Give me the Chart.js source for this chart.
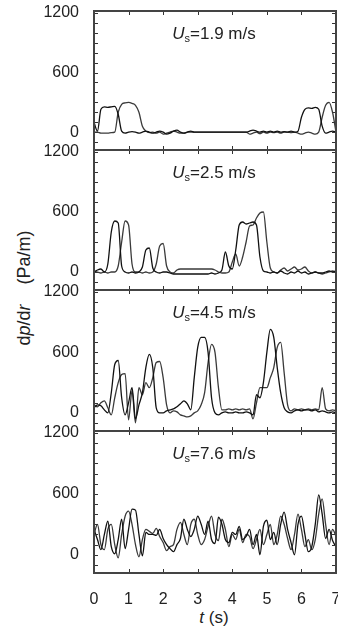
<!DOCTYPE html>
<html>
<head>
<meta charset="utf-8">
<script src="https://cdn.jsdelivr.net/npm/chart.js@4/dist/chart.umd.min.js"></script>
<style>
  html, body { margin: 0; padding: 0; background: #fff; }
  #wrap { position: relative; width: 338px; height: 635px; overflow: hidden;
          font-family: "Liberation Sans", Arial, sans-serif; color: #222; }
  #wrap canvas { position: absolute; left: 0; top: 0; }
  .lbl { position: absolute; white-space: nowrap; transform: translate(-50%, -50%); }
  .panel { font-size: 17px; }
  .panel sub { font-size: 11px; vertical-align: -3px; }
  #ytitle { font-size: 18px; transform: translate(-50%, -50%) rotate(-90deg); }
  #xtitle { font-size: 17px; }
</style>
</head>
<body>
<div id="wrap">
  <div class="lbl" id="ytitle" style="left:24px; top:288px;">d<i>p</i>/d<i>r</i>&nbsp;&nbsp;&nbsp;&nbsp;(Pa/m)</div>
  <div class="lbl" id="xtitle" style="left:214px; top:618px;"><i>t</i> (s)</div>
</div>
<script>
// sample times (s), shared by all traces
const time = [0, 0.1, 0.2, 0.3, 0.4, 0.5, 0.6, 0.7, 0.8, 0.9,
  1, 1.1, 1.2, 1.3, 1.4, 1.5, 1.6, 1.7, 1.8, 1.9,
  2, 2.1, 2.2, 2.3, 2.4, 2.5, 2.6, 2.7, 2.8, 2.9,
  3, 3.1, 3.2, 3.3, 3.4, 3.5, 3.6, 3.7, 3.8, 3.9,
  4, 4.1, 4.2, 4.3, 4.4, 4.5, 4.6, 4.7, 4.8, 4.9,
  5, 5.1, 5.2, 5.3, 5.4, 5.5, 5.6, 5.7, 5.8, 5.9,
  6, 6.1, 6.2, 6.3, 6.4, 6.5, 6.6, 6.7, 6.8, 6.9,
  7];

const speeds = ['1.9', '2.5', '4.5', '7.6'];
const yTickValues = [0, 600, 1200];
const xTickValues = [0, 1, 2, 3, 4, 5, 6, 7];

// Us = 1.9 m/s
const p1a = [100, 10, 230, 255, 250, 255, 260, 180, 10, -10,
  0, 5, 0, -10, 0, 10, 0, -10, 0, 10,
  0, -20, -10, 10, 20, 0, -10, 0, 10, 0,
  0, 0, 0, 0, 0, 0, 0, 0, 0, 0,
  0, 0, 0, 0, 0, 10, 20, 10, 0, 10,
  0, 10, 0, 10, 0, 5, 0, 10, 0, 10,
  150, 230, 245, 240, 250, 230, 60, -10, 0, 10,
  0];
const p1b = [0, 0, -10, -10, -10, -5, 0, 200, 280, 295,
  300, 290, 270, 200, 60, 10, -5, 0, -10, 0,
  -20, -10, 0, 10, 0, -10, -10, 0, 0, 0,
  0, 0, 0, 0, 0, 0, 0, 0, 0, 0,
  0, 0, 0, 0, 0, -20, -10, 0, -15, 0,
  -10, 0, -5, 0, -10, 0, 0, -5, 0, -10,
  -20, -10, 0, -10, -20, 0, 150, 270, 300, 200,
  0];

// Us = 2.5 m/s
const p2a = [0, 20, 30, 0, 80, 400, 510, 490, 60, 0,
  -10, 0, -10, 0, 50, 220, 240, 40, 0, -10,
  0, 0, -10, -20, -20, -20, -20, -20, -20, -20,
  -20, -20, -20, -20, -10, -20, -10, 20, 200, 60,
  30, 220, 470, 500, 480, 490, 500, 470, 150, 10,
  0, -10, 0, -10, 10, -10, -20, 0, -10, 10,
  -10, 0, -20, -10, 0, -10, -10, 0, 10, 0,
  10];
const p2b = [10, 0, -10, 0, -10, 0, 0, 60, 300, 510,
  470, 80, 0, 0, -10, 0, -10, 0, 80, 260,
  285, 60, 0, -10, 20, 30, 30, 30, 30, 30,
  30, 30, 30, 30, 30, 20, 0, -10, -10, 0,
  100, 180, 60, 150, 300, 460, 470, 540, 590, 600,
  300, 40, 0, -10, 20, 40, 10, 30, 50, 20,
  30, 50, 10, -10, 0, -10, -20, -10, 0, 10,
  0];

// Us = 4.5 m/s
const p3a = [50, 80, 70, 30, 0, 200, 480, 520, 150, -20,
  100, 250, -60, 80, 200, 450, 580, 450, 50, 0,
  0, 20, 30, 40, 60, 90, 120, 90, 30, 350,
  650, 750, 750, 600, 150, 0, -20, 0, 10, 0,
  0, 10, 0, 0, 10, 0, -20, 180, 150, 300,
  600, 830, 750, 450, 200, 50, 10, 0, 20, 30,
  20, 30, 30, 20, 30, 10, 20, 10, 0, 10,
  0];
const p3b = [80, 60, 100, 120, 50, -20, 150, 300, 380, 390,
  -70, 220, -100, 250, 180, 300, 250, 350, 500, 510,
  350, 80, 0, 20, 10, -20, -30, -40, -30, 0,
  20, 80, 200, 500, 680, 600, 250, 30, 30, 40,
  30, 40, 30, 40, 30, 40, -60, 100, 250, 250,
  250, 350, 450, 650, 700, 400, 80, 20, 40, 30,
  40, 30, 40, 30, 40, 30, 250, 40, 20, 30,
  20];

// Us = 7.6 m/s
const p4a = [250, 150, 50, 200, 330, 80, 10, 150, 350, 60,
  250, 450, 440, 200, -10, 220, 200, 200, 190, 250,
  160, 100, 60, 30, 100, 160, 350, 250, 180, 250,
  380, 300, 200, 330, 150, 110, 370, 300, 150, 120,
  220, 200, 280, 150, 180, 250, 100, 200, 0, 280,
  340, 150, 220, 100, 300, 420, 250, 120, 0, 300,
  380, 200, 30, 80, 300, 590, 400, 160, 250, 140,
  80];
const p4b = [200, 300, 100, 50, 250, 300, 100, -30, 200, 380,
  430, 300, 100, -20, 150, 250, 230, 210, 260, 180,
  120, 40, 80, 100, 250, 320, 200, 100, 300, 350,
  200, 100, 150, 280, 380, 200, 140, 350, 250, 80,
  200, 150, 250, 120, 200, 180, 60, 150, 250, 100,
  200, 300, 100, 200, 380, 300, 160, 50, 200, 400,
  250, 80, 150, 50, 150, 400, 550, 300, 100, 250,
  180];

const traces = [[p1a, p1b], [p2a, p2b], [p3a, p3b], [p4a, p4b]];

// panel edges in px (top of first ... bottom of last)
const edges = [11, 150, 290, 431, 573];
const W = 338, H = 635;
const font = { family: '"Liberation Sans", Arial, sans-serif', size: 16 };

// frame + inward tick marks, like the printed figure
const framePlugin = {
  id: 'frame',
  afterDatasetsDraw(chart) {
    const { ctx, chartArea: a, scales: { x, y } } = chart;
    ctx.save();
    ctx.strokeStyle = '#333';
    ctx.lineWidth = 1;
    ctx.beginPath();
    for (let v = -100; v <= 1200; v += 100) {
      const py = Math.round(y.getPixelForValue(v)) + 0.5;
      ctx.moveTo(a.left, py); ctx.lineTo(a.left + 4, py);
      ctx.moveTo(a.right, py); ctx.lineTo(a.right - 4, py);
    }
    xTickValues.forEach(v => {
      const px = Math.round(x.getPixelForValue(v)) + 0.5;
      ctx.moveTo(px, a.bottom); ctx.lineTo(px, a.bottom - 4);
      ctx.moveTo(px, a.top); ctx.lineTo(px, a.top + 4);
    });
    ctx.stroke();
    ctx.lineWidth = 2;
    ctx.strokeStyle = '#444';
    ctx.strokeRect(a.left, a.top, a.right - a.left, a.bottom - a.top);
    ctx.restore();
  }
};

const wrap = document.getElementById('wrap');

traces.forEach((pair, i) => {
  const last = i === traces.length - 1;
  const canvas = document.createElement('canvas');
  canvas.width = W;
  canvas.height = H;
  wrap.appendChild(canvas);

  new Chart(canvas.getContext('2d'), {
    type: 'line',
    data: {
      datasets: pair.map((vals, k) => ({
        data: time.map((t, j) => ({ x: t, y: vals[j] })),
        borderColor: k === 0 ? '#111' : '#3a3a3a',
        borderWidth: 1.3,
        pointRadius: 0,
        cubicInterpolationMode: 'monotone'
      }))
    },
    options: {
      responsive: false,
      animation: false,
      devicePixelRatio: 1,
      layout: { padding: { top: edges[i], bottom: last ? 0 : H - edges[i + 1], left: 0, right: 2 } },
      plugins: { legend: { display: false }, tooltip: { enabled: false } },
      scales: {
        x: {
          type: 'linear',
          min: 0,
          max: 7,
          display: last,
          grid: { display: false },
          border: { display: false },
          ticks: { stepSize: 1, font: font, color: '#222', padding: 9, maxRotation: 0,
                   callback: v => String(v) },
          afterBuildTicks: s => { s.ticks = xTickValues.map(v => ({ value: v })); },
          afterFit: s => {
            s.paddingLeft = 0; s.paddingRight = 0;
            if (last) s.height = H - edges[4];
          }
        },
        y: {
          min: -180,
          max: 1220,
          grid: { display: false },
          border: { display: false },
          ticks: { font: font, color: '#222', padding: 7, autoSkip: false,
                   callback: v => String(v) },
          afterBuildTicks: s => { s.ticks = yTickValues.map(v => ({ value: v })); },
          afterFit: s => { s.width = 94; s.paddingTop = 0; s.paddingBottom = 0; }
        }
      }
    },
    plugins: [framePlugin]
  });

  // panel label, e.g. Us=1.9 m/s
  const lbl = document.createElement('div');
  lbl.className = 'lbl panel';
  lbl.style.left = '214px';
  lbl.style.top = (edges[i] + 23) + 'px';
  lbl.innerHTML = '<i>U</i><sub>s</sub>=' + speeds[i] + ' m/s';
  wrap.appendChild(lbl);
});
</script>
</body>
</html>
